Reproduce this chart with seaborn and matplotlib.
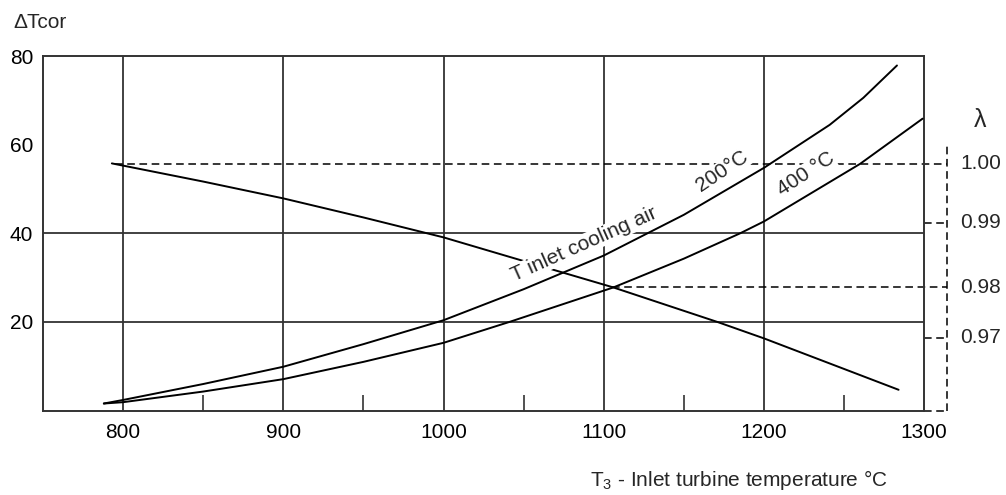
import matplotlib
matplotlib.use("Agg")
import matplotlib.pyplot as plt
import seaborn as sns
import pandas as pd

# --- datos ---
# curva lambda (decreciente)
t_lam = [793, 800, 850, 900, 950, 1000, 1044, 1106, 1171, 1200, 1250, 1284]
dt_lam = [55.8, 55.3, 51.7, 47.9, 43.6, 39.1, 34.4, 27.8, 20.0, 16.3, 9.4, 4.7]
# T inlet cooling air = 200 C
t_200 = [788, 800, 850, 900, 950, 1000, 1050, 1100, 1150, 1200, 1241, 1262, 1283]
dt_200 = [1.6, 2.4, 6.0, 9.9, 15.0, 20.4, 27.4, 35.0, 44.2, 54.8, 64.5, 70.6, 77.9]
# T inlet cooling air = 400 C
t_400 = [788, 800, 850, 900, 950, 1000, 1041, 1106, 1150, 1185, 1200, 1260, 1299]
dt_400 = [1.6, 1.9, 4.3, 7.1, 11.0, 15.3, 20.0, 27.8, 34.3, 40.0, 42.7, 55.7, 65.9]

# eje lambda: etiqueta y posicion en escala dTcor
lam_labels = ["1.00", "0.99", "0.98", "0.97"]
lam_pos = [55.7, 42.4, 27.8, 16.5]
lam_from = [795, 1300, 1105, 1300]   # donde empieza cada linea discontinua

x_ticks = [800, 900, 1000, 1100, 1200, 1300]
x_minor = [850, 950, 1050, 1150, 1250]
y_ticks = [20, 40, 60, 80]
x_grid = [800, 900, 1000, 1100, 1200]
y_grid = [20, 40]

sns.set_style("white")
plt.rcParams['font.family'] = ['Liberation Sans', 'DejaVu Sans']
plt.rcParams['mathtext.fontset'] = 'custom'
plt.rcParams['mathtext.rm'] = 'Liberation Sans'

gc = '#333333'
fig = plt.figure(figsize=(10.06, 4.95), dpi=100)
ax = fig.add_axes([0.0427, 0.1705, 0.876, 0.716])

for xv in x_grid:
    ax.axvline(xv, color=gc, lw=1.3, zorder=1)
for yv in y_grid:
    ax.axhline(yv, color=gc, lw=1.3, zorder=1)

df_lam = pd.DataFrame({'T3': t_lam, 'dT': dt_lam})
df_200 = pd.DataFrame({'T3': t_200, 'dT': dt_200})
df_400 = pd.DataFrame({'T3': t_400, 'dT': dt_400})
for d in (df_lam, df_200, df_400):
    sns.lineplot(data=d, x='T3', y='dT', ax=ax, color='black', lw=1.4, zorder=3)

# lineas discontinuas hacia el eje lambda
x_lam_axis = 1314.4
for lab, yv, x0 in zip(lam_labels, lam_pos, lam_from):
    ax.plot([x0, x_lam_axis], [yv, yv], color='black', lw=1.1, ls=(0, (5, 3)),
            clip_on=False, zorder=2)
    ax.text(x_lam_axis + 8, yv, lab, ha='left', va='center', fontsize=15, clip_on=False)
ax.plot([x_lam_axis, x_lam_axis], [0, 60.4], color='black', lw=1.1, ls=(0, (5, 3)),
        clip_on=False, zorder=2)
ax.plot([1300, x_lam_axis], [0, 0], color='black', lw=1.1, ls=(0, (5, 3)),
        clip_on=False, zorder=2)

box = dict(facecolor='white', edgecolor='none', pad=0.5)
ax.text(1088, 37.6, "T inlet cooling air", rotation=24, ha='center', va='center',
        fontsize=15, bbox=box, zorder=4, rotation_mode='anchor')
ax.text(1174, 54.0, "200°C", rotation=34, ha='center', va='center',
        fontsize=15, bbox=box, zorder=4, rotation_mode='anchor')
ax.text(1226, 53.4, "400 °C", rotation=33, ha='center', va='center',
        fontsize=15, bbox=box, zorder=4, rotation_mode='anchor')

ax.set_xlim(750, 1300)
ax.set_ylim(0, 80)
ax.set_xticks(x_ticks)
ax.set_xticks(x_minor, minor=True)
ax.set_yticks(y_ticks)
ax.tick_params(axis='both', which='major', length=0, labelsize=15, colors='black')
ax.tick_params(axis='x', which='major', pad=9)
ax.tick_params(axis='y', which='major', pad=7)
ax.tick_params(axis='x', which='minor', direction='in', length=11.5, width=1.2,
               color=gc, bottom=True)
ax.set_xlabel("")
ax.set_ylabel("")
for s in ax.spines.values():
    s.set_color(gc)
    s.set_linewidth(1.4)

fig.text(40 / 1006, 1 - 23 / 495, "\u0394Tcor", ha='center', va='center', fontsize=15)
fig.text(980 / 1006, 1 - 120 / 495, "\u03bb", ha='center', va='center', fontsize=18)
fig.text(590 / 1006, 1 - 480 / 495, r"$\mathregular{T_3}$ - Inlet turbine temperature °C",
         ha='left', va='center', fontsize=15)

fig.savefig("out.png", dpi=100)
